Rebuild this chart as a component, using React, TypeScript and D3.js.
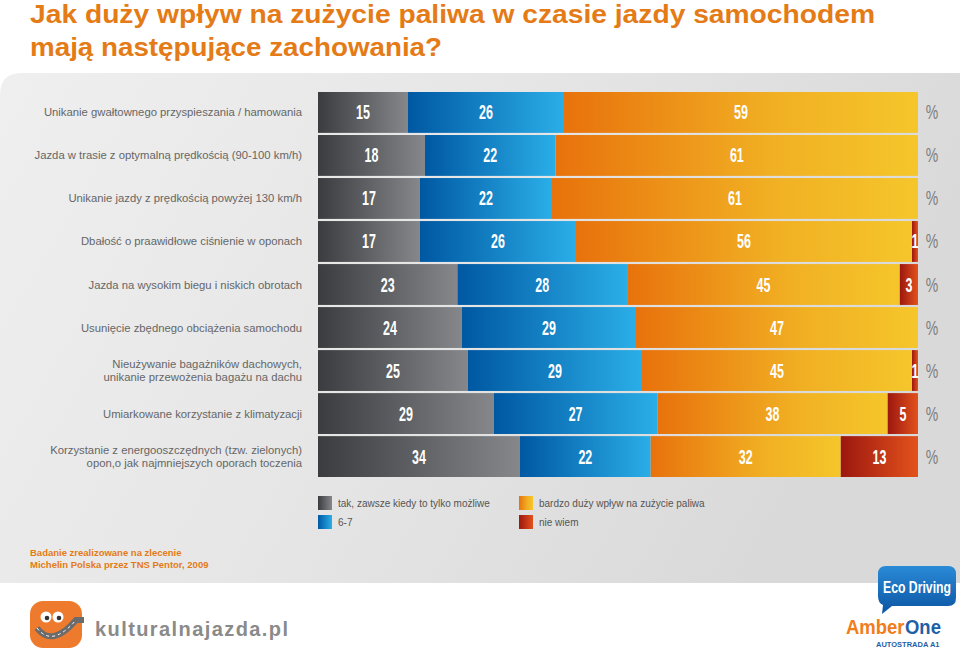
import React from "react";
import * as d3 from "d3";

const categories: string[][] = [
  ["Unikanie gwałtownego przyspieszania / hamowania"],
  ["Jazda w trasie z optymalną prędkością (90-100 km/h)"],
  ["Unikanie jazdy z prędkością powyżej 130 km/h"],
  ["Dbałość o praawidłowe ciśnienie w oponach"],
  ["Jazda na wysokim biegu i niskich obrotach"],
  ["Usunięcie zbędnego obciążenia samochodu"],
  ["Nieużywanie bagażników dachowych,", "unikanie przewożenia bagażu na dachu"],
  ["Umiarkowane korzystanie z klimatyzacji"],
  ["Korzystanie z energooszczędnych (tzw. zielonych)", "opon,o jak najmniejszych oporach toczenia"],
];

const seriesNames = [
  "tak, zawsze kiedy to tylko możliwe",
  "6-7",
  "bardzo duży wpływ na zużycie paliwa",
  "nie wiem",
];

const seriesTak = [15, 18, 17, 17, 23, 24, 25, 29, 34];
const series67 = [26, 22, 22, 26, 28, 29, 29, 27, 22];
const seriesBardzo = [59, 61, 61, 56, 45, 47, 45, 38, 32];
const seriesNieWiem = [0, 0, 0, 1, 3, 0, 1, 5, 13];

const gradIds = ["gGray", "gBlue", "gOrange", "gRed"];

const W = 960;
const H = 651;

export default function App() {
  const rows = categories.map((c, i) => [seriesTak[i], series67[i], seriesBardzo[i], seriesNieWiem[i]]);
  const y = d3
    .scaleBand<number>()
    .domain(d3.range(categories.length))
    .range([92, 477])
    .paddingInner(0.05)
    .paddingOuter(0);
  const sans = "'Liberation Sans', Arial, sans-serif";
  return (
    <svg
      width={W}
      height={H}
      viewBox={`0 0 ${W} ${H}`}
      style={{ position: "absolute", left: 0, top: 0, display: "block" }}
      fontFamily={sans}
    >
      <defs>
        <linearGradient id="gPanel" x1="0" y1="0" x2="1" y2="0.3">
          <stop offset="0" stopColor="#efefef" />
          <stop offset="0.5" stopColor="#e6e6e6" />
          <stop offset="1" stopColor="#d9d9d9" />
        </linearGradient>
        <linearGradient id="gGray" x1="0" x2="1" y1="0" y2="0">
          <stop offset="0" stopColor="#3a3c3f" />
          <stop offset="1" stopColor="#85878a" />
        </linearGradient>
        <linearGradient id="gBlue" x1="0" x2="1" y1="0" y2="0">
          <stop offset="0" stopColor="#0058a2" />
          <stop offset="1" stopColor="#2aaee8" />
        </linearGradient>
        <linearGradient id="gOrange" x1="0" x2="1" y1="0" y2="0">
          <stop offset="0" stopColor="#e8720c" />
          <stop offset="0.6" stopColor="#f1b023" />
          <stop offset="1" stopColor="#f5c62b" />
        </linearGradient>
        <linearGradient id="gRed" x1="0" x2="1" y1="0" y2="0">
          <stop offset="0" stopColor="#9c170f" />
          <stop offset="1" stopColor="#e3521c" />
        </linearGradient>
        <linearGradient id="gEco" x1="0" x2="0" y1="0" y2="1">
          <stop offset="0" stopColor="#2a8ad6" />
          <stop offset="1" stopColor="#0b55a3" />
        </linearGradient>
      </defs>

      <rect x={0} y={0} width={W} height={H} fill="#ffffff" />
      <path
        d={`M0,${73 + 22} Q0,73 22,73 L${W},73 L${W},583 L0,583 Z`}
        fill="url(#gPanel)"
      />

      <text x={30} y={23} fontSize={26.5} fontWeight="bold" fill="#e47b16" textLength={845} lengthAdjust="spacingAndGlyphs">
        Jak duży wpływ na zużycie paliwa w czasie jazdy samochodem
      </text>
      <text x={30} y={56} fontSize={26.5} fontWeight="bold" fill="#e47b16" textLength={412} lengthAdjust="spacingAndGlyphs">
        mają następujące zachowania?
      </text>

      {rows.map((vals, i) => {
        const total = d3.sum(vals);
        const x = d3.scaleLinear().domain([0, total]).range([318, 918]);
        const y0 = y(i)!;
        const bh = y.bandwidth();
        const cy = y0 + bh / 2;
        let acc = 0;
        const lines = categories[i];
        return (
          <g key={i}>
            {lines.map((l, k) => (
              <text
                key={k}
                x={302}
                y={cy + 4 + (k - (lines.length - 1) / 2) * 13}
                textAnchor="end"
                fontSize={11.3}
                fill="#666666"
              >
                {l}
              </text>
            ))}
            {vals.map((v, j) => {
              const start = acc;
              acc += v;
              if (v === 0) return null;
              const x0 = x(start);
              const x1 = x(acc);
              return (
                <g key={j}>
                  <rect x={x0} y={y0} width={x1 - x0} height={bh} fill={`url(#${gradIds[j]})`} />
                  <text
                    transform={`translate(${(x0 + x1) / 2},${cy + 7}) scale(0.64,1)`}
                    textAnchor="middle"
                    fontSize={19.5}
                    fontWeight="bold"
                    fill="#ffffff"
                  >
                    {v}
                  </text>
                </g>
              );
            })}
            <text
              transform={`translate(932,${cy + 7}) scale(0.72,1)`}
              textAnchor="middle"
              fontSize={19.5}
              fill="#7d7d7d"
            >
              %
            </text>
          </g>
        );
      })}

      {seriesNames.map((name, j) => {
        const col = j === 0 || j === 1 ? 0 : 1;
        const row = j === 0 || j === 2 ? 0 : 1;
        const lx = col === 0 ? 318 : 519;
        const ly = 496 + row * 19;
        return (
          <g key={name}>
            <rect x={lx} y={ly} width={14} height={14} fill={`url(#${gradIds[j]})`} />
            <text x={lx + 20} y={ly + 11} fontSize={10} fill="#555555">
              {name}
            </text>
          </g>
        );
      })}

      <text x={30} y={556} fontSize={9.5} fontWeight="bold" fill="#e47b16">
        Badanie zrealizowane na zlecenie
      </text>
      <text x={30} y={568} fontSize={9.5} fontWeight="bold" fill="#e47b16">
        Michelin Polska przez TNS Pentor, 2009
      </text>

      {/* kulturalnajazda logo */}
      <g>
        <rect x={30} y={601} width={52} height={47} rx={13} fill="#ee7a2d" />
        <circle cx={46} cy={617} r={5.5} fill="#ffffff" />
        <circle cx={58} cy={617} r={5.5} fill="#ffffff" />
        <circle cx={47} cy={618} r={2.3} fill="#333" />
        <circle cx={59} cy={618} r={2.3} fill="#333" />
        <path d="M37,628 Q52,648 76,620 L84,620" fill="none" stroke="#6b6b6b" strokeWidth={6} />
        <path d="M37,628 Q52,648 76,620" fill="none" stroke="#ffffff" strokeWidth={1} strokeDasharray="3,3" />
        <text x={95} y={636} fontSize={20} fontWeight="bold" fill="#8a8a8a" textLength={193} lengthAdjust="spacing">
          kulturalnajazda.pl
        </text>
      </g>

      {/* EcoDriving / AmberOne */}
      <g>
        <path d="M886,566 L948,566 Q956,566 956,574 L956,598 Q956,606 948,606 L892,606 L882,614 L883,605 Q878,603 878,596 L878,574 Q878,566 886,566 Z" fill="url(#gEco)" />
        <text
          transform="translate(917,593) scale(0.72,1)"
          textAnchor="middle"
          fontSize={17}
          fontWeight="bold"
          fill="#ffffff"
        >
          Eco Driving
        </text>
        <text transform="translate(846,634) scale(0.88,1)" fontSize={21} fontWeight="bold" fill="#f07d1a">
          Amber
        </text>
        <text transform="translate(905,634) scale(0.88,1)" fontSize={21} fontWeight="bold" fill="#1f5fa8">
          One
        </text>
        <text x={876} y={647} fontSize={7.5} fontWeight="bold" fill="#1f5fa8">
          AUTOSTRADA A1
        </text>
      </g>
    </svg>
  );
}
